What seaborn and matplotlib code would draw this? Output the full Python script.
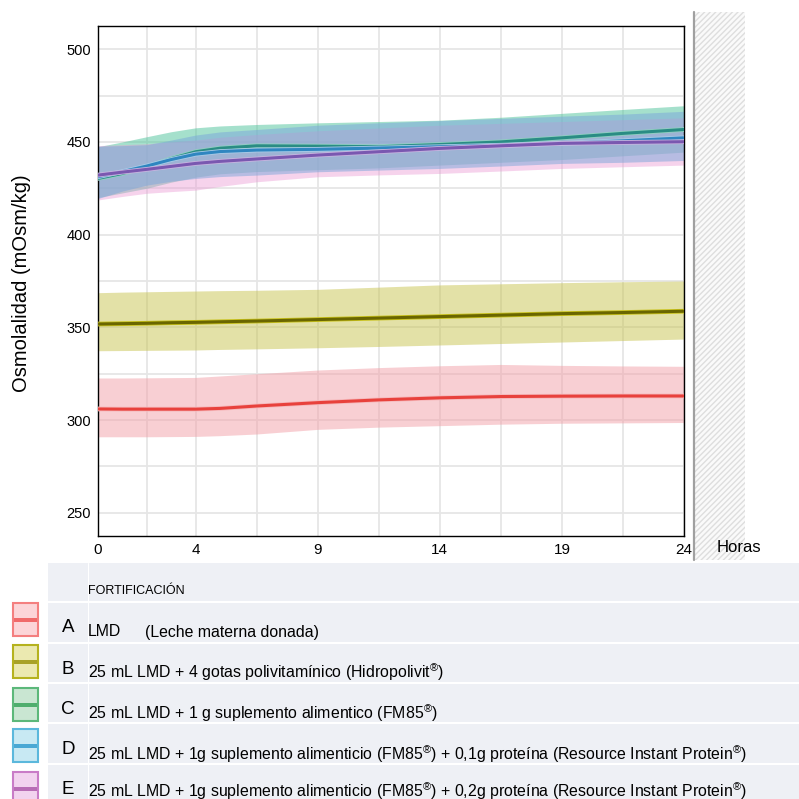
import pandas as pd
import matplotlib
matplotlib.use("Agg")
import matplotlib.pyplot as plt
import matplotlib.patches as mpatches
import matplotlib.patheffects as pe
import seaborn as sns

# -------------------------
# Datos
# -------------------------
horas = [0, 1, 2, 3, 4, 5, 6.5, 9, 11.5, 14, 16.5, 19, 21.5, 24]

a_media = [306, 305.9, 305.9, 305.9, 305.9, 306.3, 307.6, 309.4, 310.9, 312, 312.7, 312.9, 313, 313]
a_sup = [322.7, 322.7, 322.8, 322.9, 323, 323.8, 325, 327, 328.3, 329.3, 330, 329.5, 329.2, 329]
a_inf = [291, 291, 291, 291.1, 291.2, 291.6, 292.5, 295, 296.2, 297, 297.8, 298.3, 298.5, 298.7]

b_media = [351.8, 352, 352.2, 352.5, 352.7, 353, 353.4, 354.2, 355, 355.8, 356.6, 357.4, 358, 358.7]
b_sup = [368.7, 369, 369.2, 369.4, 369.6, 369.8, 370, 370.5, 371.7, 372.9, 373.5, 374.1, 374.6, 375]
b_inf = [337.4, 337.5, 337.6, 337.7, 337.8, 338.1, 338.4, 339, 339.7, 340.5, 341.3, 342.1, 342.9, 343.7]

c_media = [430.3, 433, 436.6, 441, 444.7, 446.6, 447.9, 447.7, 447.4, 448.6, 450, 452.2, 454.6, 456.7]
c_sup = [447.4, 450, 452.8, 455.5, 457.6, 458.6, 459.4, 460.3, 461, 461.7, 463.3, 465.4, 467.5, 469.5]
c_inf = [420, 422.5, 425, 428.3, 431, 432.8, 434, 435, 436, 437.5, 439, 440.5, 442.5, 444.5]

d_media = [431.2, 434, 437, 440.5, 443.4, 444.8, 445.6, 446, 446.7, 447.4, 448.2, 449.2, 450.6, 452.2]
d_sup = [447.7, 448, 448.5, 451, 453.7, 455.4, 456.7, 459, 460.3, 461.5, 462.7, 463.9, 465, 466.5]
d_inf = [419.5, 423.5, 426.7, 428.8, 430.3, 431.3, 432.1, 433.9, 434.8, 435.7, 437, 438.4, 439, 440]

e_media = [432.1, 433.7, 435.2, 436.8, 438.4, 439.5, 440.8, 442.9, 444.7, 446.5, 447.9, 449.2, 449.7, 450.1]
e_sup = [448, 448.5, 449, 450, 451, 452.5, 454, 456, 457.5, 459, 460, 461, 462, 463]
e_inf = [418.7, 420.6, 422.3, 423.2, 424, 426, 428.5, 431.2, 432.2, 433, 434.3, 435.7, 436.6, 437.5]

letras = ["A", "B", "C", "D", "E"]
textos = [
    "LMD",
    "25 mL LMD + 4 gotas polivitamínico (Hidropolivit$^{®}$)",
    "25 mL LMD + 1 g suplemento alimentico (FM85$^{®}$)",
    "25 mL LMD + 1g suplemento alimenticio (FM85$^{®}$) + 0,1g proteína (Resource Instant Protein$^{®}$)",
    "25 mL LMD + 1g suplemento alimenticio (FM85$^{®}$) + 0,2g proteína (Resource Instant Protein$^{®}$)",
]
xticks = [0, 4, 9, 14, 19, 24]
yticks = [250, 300, 350, 400, 450, 500]

# -------------------------
# Estilo
# -------------------------
sns.set_style("white")
plt.rcParams["font.family"] = ["Liberation Sans", "DejaVu Sans"]
plt.rcParams["mathtext.fontset"] = "custom"
plt.rcParams["mathtext.rm"] = "Liberation Sans"
plt.rcParams["text.color"] = "black"
plt.rcParams["xtick.color"] = "black"
plt.rcParams["ytick.color"] = "black"

W = 799.0
fig = plt.figure(figsize=(7.99, 7.99), dpi=100)


def fx(x):
    return x / W


def fy(y):
    return 1 - y / W


ax = fig.add_axes([fx(98), fy(536), fx(684) - fx(98), fy(26) - fy(536)])

# bandas
orden = [
    (a_inf, a_sup, "#f2a0a8", 0.5),
    (b_inf, b_sup, "#c8c450", 0.5),
    (c_inf, c_sup, "#4cc39a", 0.5),
    (e_inf, e_sup, "#ea98d4", 0.42),
    (d_inf, d_sup, "#7aa6da", 0.5),
]
for inf, sup, col, al in orden:
    ax.fill_between(horas, inf, sup, color=col, alpha=al, linewidth=0, zorder=2)

# lineas
series = [
    (a_media, "#e8413c", "#f6b8bb"),
    (b_media, "#6a6600", "#c9c21a"),
    (c_media, "#2a8c84", "#8fd0c0"),
    (d_media, "#2f86c0", "#a8cce8"),
    (e_media, "#7a58b0", "#c8b4e0"),
]
for media, col, halo in series:
    df = pd.DataFrame({"horas": horas, "osm": media})
    sns.lineplot(data=df, x="horas", y="osm", color=col, linewidth=2.2, ax=ax, zorder=4,
                 path_effects=[pe.Stroke(linewidth=3.4, foreground=halo), pe.Normal()])

ax.set_xlim(0, 24)
ax.set_ylim(237.5, 512.5)
ax.set_xticks(xticks)
ax.set_yticks(yticks)
ax.set_xticks([2, 6.5, 11.5, 16.5, 21.5], minor=True)
ax.set_yticks([275, 325, 375, 425, 475], minor=True)
ax.grid(True, which="both", color="#e6e6e6", linewidth=1.3, zorder=0)
ax.set_axisbelow(True)
ax.tick_params(axis="y", which="major", length=3, width=1.5, color="black", pad=2, labelsize=10.5,
               labelcolor="black")
ax.tick_params(axis="x", which="major", length=2, width=2, color="black", pad=3, labelsize=11,
               labelcolor="black")
ax.tick_params(which="minor", length=0)
for s in ax.spines.values():
    s.set_visible(True)
    s.set_color("black")
    s.set_linewidth(1.0)
ax.set_xlabel("")
ax.set_ylabel("")

fig.text(fx(22), fy(283), "Osmolalidad (mOsm/kg)", rotation=90, ha="center", va="center", fontsize=14.5)
fig.text(fx(717), fy(547), "Horas", ha="left", va="center", fontsize=12)

# panel rayado a la derecha
fig.patches.append(mpatches.Rectangle((fx(694), fy(560)), fx(745) - fx(694), fy(12) - fy(560),
                                      transform=fig.transFigure, facecolor="#fafafa",
                                      edgecolor="#dedede", hatch="//////", linewidth=0, zorder=0))
fig.lines.append(plt.Line2D([fx(694), fx(694)], [fy(560), fy(12)], transform=fig.transFigure,
                            color="#a0a0a0", linewidth=1.6))

# -------------------------
# Leyenda tipo tabla
# -------------------------
fig.patches.append(mpatches.Rectangle((fx(48), 0), 1 - fx(48), fy(563), transform=fig.transFigure,
                                      facecolor="#eef0f5", edgecolor="none", zorder=0))
for yl in [602, 643, 683, 723, 764]:
    fig.lines.append(plt.Line2D([fx(48), 1], [fy(yl), fy(yl)], transform=fig.transFigure,
                                color="white", linewidth=1.5))
fig.lines.append(plt.Line2D([fx(88), fx(88)], [0, fy(563)], transform=fig.transFigure,
                            color="white", linewidth=0.8))

fig.text(fx(88), fy(591), "FORTIFICACIÓN", ha="left", va="center", fontsize=9)

sw_top = [603, 645, 688, 729, 772]
sw_cols = [
    ("#fcd5d8", "#f47f7f", "#f06a6a"),
    ("#ebe9b0", "#b5b21e", "#a8a228"),
    ("#c9e6d2", "#5cb87a", "#4fae6e"),
    ("#c8e9f3", "#5bb8dc", "#4aa8d4"),
    ("#f2d3ef", "#c97cc7", "#b86db5"),
]
letra_y = [628, 669, 709, 750, 789]
texto_y = [632, 672, 713, 754, 791]
for i in range(5):
    fill, edge, bar = sw_cols[i]
    top = sw_top[i]
    fig.patches.append(mpatches.Rectangle((fx(13), fy(top + 33)), fx(25), fx(33), transform=fig.transFigure,
                                          facecolor=fill, edgecolor=edge, linewidth=1.5))
    fig.patches.append(mpatches.Rectangle((fx(14), fy(top + 18.5)), fx(23), fx(4), transform=fig.transFigure,
                                          facecolor=bar, edgecolor="none"))
    fig.text(fx(68), fy(letra_y[i]), letras[i], ha="center", va="center", fontsize=13.5)
    fig.text(fx(88), fy(texto_y[i]), textos[i], ha="left", va="center", fontsize=11.4)

fig.text(fx(145), fy(texto_y[0]), "(Leche materna donada)", ha="left", va="center", fontsize=11.4)

fig.savefig("out.png", dpi=100)
